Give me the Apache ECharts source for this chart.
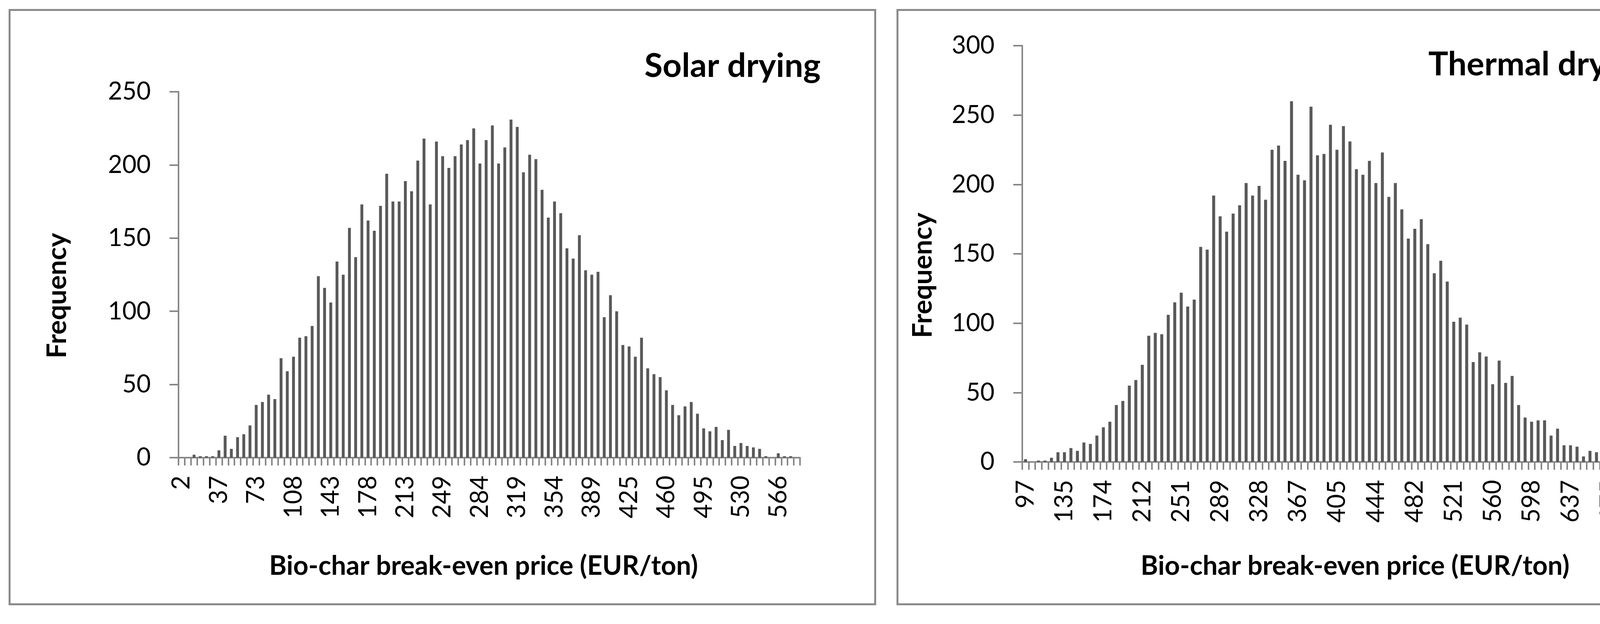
<!DOCTYPE html>
<html>
<head>
<meta charset="utf-8">
<script src="https://cdn.jsdelivr.net/npm/echarts@6/dist/echarts.min.js"></script>
<style>
html,body{margin:0;padding:0;background:#fff;}
#chart{width:4364px;height:1598px;}
</style>
</head>
<body>
<div id="chart"></div>
<script>
// Solar drying histogram: bin labels (EUR/ton) and frequencies
const solarBins = [2,8,14,20,25,31,37,43,49,55,61,67,73,78,84,90,96,102,108,114,119,125,131,137,143,149,155,161,166,172,178,184,190,196,202,208,213,219,225,231,237,243,249,255,260,266,272,278,284,290,296,302,307,313,319,325,331,337,343,349,354,360,366,372,378,384,389,395,401,407,413,419,425,431,437,443,448,454,460,466,472,478,484,490,495,501,507,513,519,525,530,536,542,548,554,560,566,572,578,584];
const solarFreq = [0,0,2,1,1,1,5,15,6,14,16,22,36,38,43,40,68,59,69,82,83,90,124,116,106,134,125,157,137,173,162,155,172,194,175,175,189,182,203,218,173,216,206,198,206,214,217,225,201,217,227,201,212,231,226,195,207,204,183,164,175,167,143,136,152,128,125,127,96,111,100,77,76,69,82,61,57,55,46,36,29,35,38,30,20,18,21,12,19,8,10,8,7,6,1,0,3,1,1,0];

// Thermal drying histogram
const thermalBins = [97,103,110,116,123,129,135,142,148,155,161,168,174,181,187,193,200,206,212,219,226,232,238,245,251,258,264,271,277,283,289,296,303,309,316,322,328,335,341,348,354,361,367,373,380,386,393,399,405,412,418,425,431,438,444,450,457,463,470,476,482,489,495,502,508,515,521,528,534,540,547,553,560,566,573,579,585,592,598,605,611,618,624,630,637,643,650,656,663,669,675,682,688,695,701,708,714,720,727,733];
const thermalFreq = [2,0,1,1,3,7,7,10,8,14,13,19,25,29,41,44,55,59,70,91,93,92,106,115,122,112,117,155,153,192,177,166,179,185,201,192,199,189,225,228,217,260,207,203,256,221,222,243,225,242,231,211,207,217,201,223,191,201,182,161,168,175,157,136,145,130,101,104,99,72,79,76,56,73,57,62,41,32,29,30,30,19,24,12,12,11,4,8,7,6,2,5,5,4,4,2,1,1,3,0];

// Axis settings
const solarYMax = 250, thermalYMax = 300, yStep = 50;
const titles = ['Solar drying', 'Thermal drying'];
const xName = 'Bio-char break-even price (EUR/ton)';
const yName = 'Frequency';

const FONT = 'Lato';
const axisGray = '#878787';
const barGray = '#595959';

function xAxisCfg(idx, cats) {
  return {
    type: 'category', gridIndex: idx, data: cats,
    axisLine: {show: true, lineStyle: {color: axisGray, width: 4}},
    axisTick: {show: true, interval: 0, length: 20, alignWithLabel: false, lineStyle: {color: axisGray, width: 4}},
    axisLabel: {interval: 5, rotate: 90, margin: 46, fontSize: 63, fontFamily: FONT, color: '#000'},
    splitLine: {show: false}
  };
}
function yAxisCfg(idx, max) {
  return {
    type: 'value', gridIndex: idx, min: 0, max: max, interval: yStep,
    axisLine: {show: true, lineStyle: {color: axisGray, width: 4}},
    axisTick: {show: true, length: 23, lineStyle: {color: axisGray, width: 4}},
    axisLabel: {margin: 71, fontSize: 63, fontFamily: FONT, color: '#000'},
    splitLine: {show: false}
  };
}
function txt(x, y, text, size, align, rot) {
  return {
    type: 'text', x: x, y: y, rotation: rot || 0, z: 10,
    style: {text: text, x: 0, y: 0, fontSize: size, fontWeight: 'bold', fontFamily: FONT,
            fill: '#000', textAlign: align || 'center', textVerticalAlign: 'middle'}
  };
}

const chart = echarts.init(document.getElementById('chart'), null, {renderer: 'canvas'});
chart.setOption({
  animation: false,
  backgroundColor: '#fff',
  grid: [
    {left: 457, top: 235, width: 1591, height: 937, containLabel: false},
    {left: 2617, top: 117, width: 1661, height: 1066, containLabel: false}
  ],
  xAxis: [xAxisCfg(0, solarBins), xAxisCfg(1, thermalBins)],
  yAxis: [yAxisCfg(0, solarYMax), yAxisCfg(1, thermalYMax)],
  series: [
    {type: 'bar', xAxisIndex: 0, yAxisIndex: 0, data: solarFreq, barWidth: '46%', itemStyle: {color: barGray}},
    {type: 'bar', xAxisIndex: 1, yAxisIndex: 1, data: thermalFreq, barWidth: '46%', itemStyle: {color: barGray}}
  ],
  graphic: [
    {type: 'rect', shape: {x: 24.5, y: 25.5, width: 2216, height: 1522}, style: {fill: 'none', stroke: '#8a8a8a', lineWidth: 5}, z: 1},
    {type: 'rect', shape: {x: 2297.5, y: 25.5, width: 2037, height: 1522}, style: {fill: 'none', stroke: '#8a8a8a', lineWidth: 5}, z: 1},
    txt(2101, 170, titles[0], 85, 'right'),
    txt(4227, 166, titles[1], 85, 'right'),
    txt(147, 757, yName, 69, 'center', Math.PI / 2),
    txt(2363, 705, yName, 69, 'center', Math.PI / 2),
    txt(1238, 1450, xName, 68, 'center'),
    txt(3469, 1450, xName, 68, 'center')
  ]
});
</script>
</body>
</html>
